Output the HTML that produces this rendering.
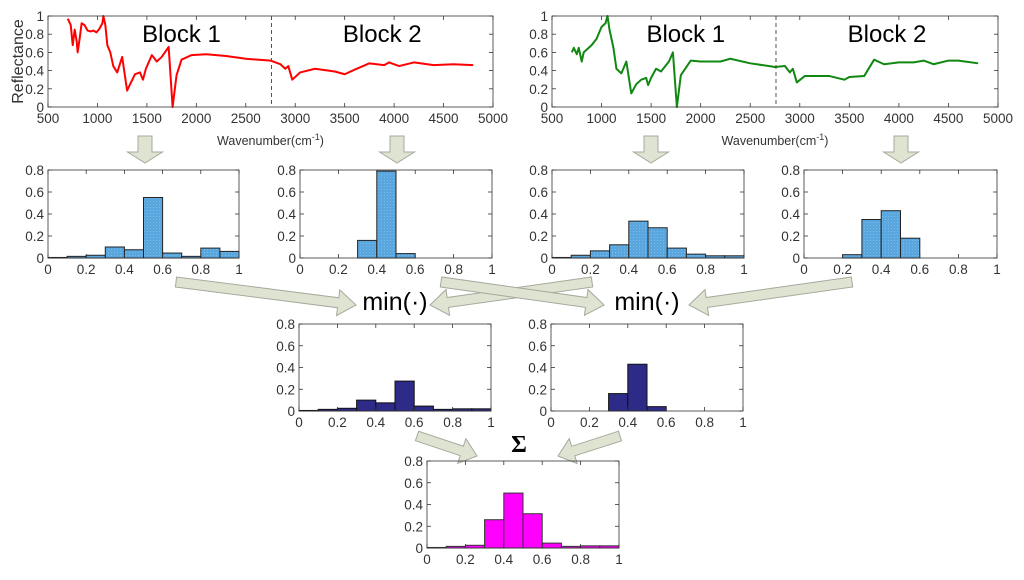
<!DOCTYPE html>
<html><head><meta charset="utf-8"><style>
html,body{margin:0;padding:0;background:#fff;}
svg{display:block;font-family:"Liberation Sans",sans-serif;}
</style></head><body>
<svg id="fig" width="1024" height="580" viewBox="0 0 1024 580">
<defs>
<pattern id="dots" width="3" height="3" patternUnits="userSpaceOnUse"><rect width="3" height="3" fill="#5aa6df"/><rect width="1" height="1" fill="#7bbbe8"/></pattern>
</defs>
</svg>
<script>
// ---- data ----
const redWave=[700,730,750,770,790,800,820,840,870,900,930,960,990,1020,1050,1060,1080,1100,1130,1160,1200,1250,1300,1330,1380,1430,1460,1490,1550,1600,1650,1720,1760,1800,1850,1950,2100,2300,2500,2750,2850,2900,2930,2970,3050,3200,3400,3500,3600,3750,3900,3950,4050,4200,4400,4600,4800];
const redRefl=[0.97,0.9,0.68,0.85,0.72,0.6,0.75,0.92,0.9,0.84,0.83,0.84,0.82,0.86,0.92,1.0,0.9,0.68,0.6,0.45,0.38,0.55,0.18,0.25,0.36,0.38,0.3,0.42,0.57,0.5,0.55,0.66,0.0,0.35,0.52,0.57,0.58,0.56,0.53,0.51,0.47,0.42,0.45,0.3,0.38,0.42,0.39,0.36,0.41,0.48,0.46,0.49,0.45,0.49,0.46,0.47,0.46];
const greenWave=[700,720,750,770,800,820,850,900,950,1000,1040,1060,1080,1120,1150,1200,1250,1300,1350,1400,1450,1470,1500,1550,1600,1680,1720,1760,1800,1900,2000,2200,2300,2500,2750,2850,2900,2930,2970,3050,3200,3300,3450,3500,3650,3750,3850,4000,4150,4250,4350,4500,4600,4800];
const greenRefl=[0.6,0.65,0.58,0.65,0.5,0.6,0.63,0.68,0.75,0.88,0.92,1.0,0.85,0.65,0.42,0.37,0.5,0.15,0.25,0.3,0.32,0.24,0.32,0.42,0.39,0.5,0.6,0.0,0.35,0.51,0.5,0.5,0.53,0.48,0.44,0.45,0.38,0.42,0.27,0.34,0.34,0.34,0.3,0.33,0.34,0.52,0.47,0.49,0.49,0.51,0.47,0.51,0.51,0.48];
const blockSplit=2760;
const specXTicks=[500,1000,1500,2000,2500,3000,3500,4000,4500,5000];
const specYTicks=[0,0.2,0.4,0.6,0.8,1];
const binEdges=[0,0.1,0.2,0.3,0.4,0.5,0.6,0.7,0.8,0.9,1.0];
const histRedB1=[0.005,0.015,0.025,0.1,0.075,0.55,0.045,0.015,0.09,0.06];
const histRedB2=[0,0,0,0.16,0.79,0.04,0,0,0,0];
const histGreenB1=[0.005,0.025,0.065,0.12,0.335,0.275,0.09,0.035,0.02,0.02];
const histGreenB2=[0,0,0.03,0.35,0.43,0.18,0,0,0,0];
const histMinB1=[0.005,0.015,0.025,0.1,0.075,0.275,0.045,0.015,0.02,0.02];
const histMinB2=[0,0,0,0.16,0.43,0.04,0,0,0,0];
const histSum=[0.005,0.015,0.025,0.26,0.505,0.315,0.045,0.015,0.02,0.02];
const histXTicks=[0,0.2,0.4,0.6,0.8,1];
const histXLabels=['0','0.2','0.4','0.6','0.8','1'];
const histYTicks=[0,0.2,0.4,0.6,0.8];

const NS='http://www.w3.org/2000/svg';
const svg=document.getElementById('fig');
function mk(tag,attrs,parent){const e=document.createElementNS(NS,tag);for(const k in attrs)e.setAttribute(k,attrs[k]);(parent||svg).appendChild(e);return e;}
function txt(x,y,s,size,anchor,parent,fill){const t=mk('text',{x:x,y:y,'font-size':size,'text-anchor':anchor||'middle',fill:fill||'#333'},parent);t.textContent=s;return t;}

function axesFrame(g,x0,x1,y0,y1,xt,xs,yt,ys,xl,yl){
  mk('rect',{x:x0,y:y1,width:x1-x0,height:y0-y1,fill:'none',stroke:'#333','stroke-width':0.8},g);
  xt.forEach((v,i)=>{const px=xs(v);
    mk('line',{x1:px,x2:px,y1:y0,y2:y0-4,stroke:'#333','stroke-width':0.8},g);
    mk('line',{x1:px,x2:px,y1:y1,y2:y1+4,stroke:'#333','stroke-width':0.8},g);
    const t=txt(px,y0+16,xl[i],13.5,'middle',g);
    });
  yt.forEach((v,i)=>{const py=ys(v);
    mk('line',{x1:x0,x2:x0+4,y1:py,y2:py,stroke:'#333','stroke-width':0.8},g);
    mk('line',{x1:x1,x2:x1-4,y1:py,y2:py,stroke:'#333','stroke-width':0.8},g);
    const t=txt(x0-4,py+5,yl[i],13.5,'end',g);
    });
}

function spectrum(name,x0,x1,y0,y1,wave,refl,color,showYLabel){
  const g=mk('g',{});
  
  
  const xs=v=>x0+(v-500)/4500*(x1-x0), ys=v=>y0-v*(y0-y1);
  const line=mk('polyline',{points:wave.map((w,i)=>xs(w)+','+ys(refl[i])).join(' '),fill:'none',stroke:color,'stroke-width':2,'stroke-linejoin':'round'},g);
  
  
  const d=mk('line',{x1:xs(blockSplit),x2:xs(blockSplit),y1:y1,y2:y0,stroke:'#555','stroke-width':1,'stroke-dasharray':'4,3'},g);
  
  
  axesFrame(g,x0,x1,y0,y1,specXTicks,xs,specYTicks,ys,specXTicks.map(String),specYTicks.map(String));
  const b1=txt(xs(1850),y1+26,'Block 1',24,'middle',g,'#000');
  
  const b2=txt(xs(3880),y1+26,'Block 2',24,'middle',g,'#000');
  
  const xl=txt((x0+x1)/2,y0+38,'',12.5,'middle',g);
  xl.innerHTML='Wavenumber(cm<tspan dy="-5" font-size="9">-1</tspan><tspan dy="5">)</tspan>';
  
  if(showYLabel){const yl=txt(0,0,'Reflectance',16,'middle',g);yl.setAttribute('transform','translate(23,'+((y0+y1)/2)+') rotate(-90)');
    }
}

function hist(name,x0,x1,y0,y1,vals,fill,stroke){
  const g=mk('g',{});
  
  
  const xs=v=>x0+v*(x1-x0), ys=v=>y0-v/0.8*(y0-y1);
  vals.forEach((v,i)=>{
    const r=mk('rect',{x:xs(binEdges[i]),y:ys(v),width:xs(binEdges[i+1])-xs(binEdges[i]),height:y0-ys(v),fill:fill,stroke:stroke,'stroke-width':1},g);
    
    
  });
  axesFrame(g,x0,x1,y0,y1,histXTicks,xs,histYTicks,ys,histXLabels,histYTicks.map(String));
}

function arrow(name,ax,ay,bx,by,sw,hw,hl){
  const dx=bx-ax,dy=by-ay,L=Math.hypot(dx,dy),ux=dx/L,uy=dy/L,nx=-uy,ny=ux;
  const cx=bx-ux*hl,cy=by-uy*hl;
  const P=[[ax+nx*sw,ay+ny*sw],[cx+nx*sw,cy+ny*sw],[cx+nx*hw,cy+ny*hw],[bx,by],[cx-nx*hw,cy-ny*hw],[cx-nx*sw,cy-ny*sw],[ax-nx*sw,ay-ny*sw]];
  const p=mk('polygon',{points:P.map(q=>q[0].toFixed(1)+','+q[1].toFixed(1)).join(' '),fill:'#dfe3d2',stroke:'#a4aa9c','stroke-width':1});
  
  
}

spectrum('spectrum-red',48,493,107,16,redWave,redRefl,'#ff0000',true);
spectrum('spectrum-green',552,998,107,16,greenWave,greenRefl,'#118811',false);

[[145,'down-arrow-red-b1'],[397,'down-arrow-red-b2'],[651,'down-arrow-green-b1'],[901,'down-arrow-green-b2']].forEach(a=>arrow(a[1],a[0],136,a[0],163,7,17.5,11));

hist('hist-red-block1',48,239,258,170,histRedB1,'url(#dots)','#222');
hist('hist-red-block2',300,492,258,170,histRedB2,'url(#dots)','#222');
hist('hist-green-block1',552,744,258,170,histGreenB1,'url(#dots)','#222');
hist('hist-green-block2',804,997,258,170,histGreenB2,'url(#dots)','#222');

arrow('arrow-to-min1-a',176,282,356,305,5,13,18);
arrow('arrow-to-min1-b',592,282,430,305,5,13,18);
arrow('arrow-to-min2-a',441,282,604,305,5,13,18);
arrow('arrow-to-min2-b',852,282,689,305,5,13,18);

const m1=txt(395,310,'min(·)',25,'middle',null,'#000');

const m2=txt(647,310,'min(·)',25,'middle',null,'#000');


hist('hist-min-block1',299,491,411,324,histMinB1,'#2e2b88','#111');
hist('hist-min-block2',551,743,411,324,histMinB2,'#2e2b88','#111');

arrow('arrow-to-sum-a',417,436,477,456,5,13,16);
arrow('arrow-to-sum-b',620,436,558,456,5,13,16);
const s=txt(519,452,'Σ',24,'middle',null,'#000');
s.setAttribute('font-family','"Liberation Serif",serif');
s.setAttribute('font-weight','bold');


hist('hist-sum',427,619,548,461,histSum,'#ff00ff','#333');
</script>
</body></html>
